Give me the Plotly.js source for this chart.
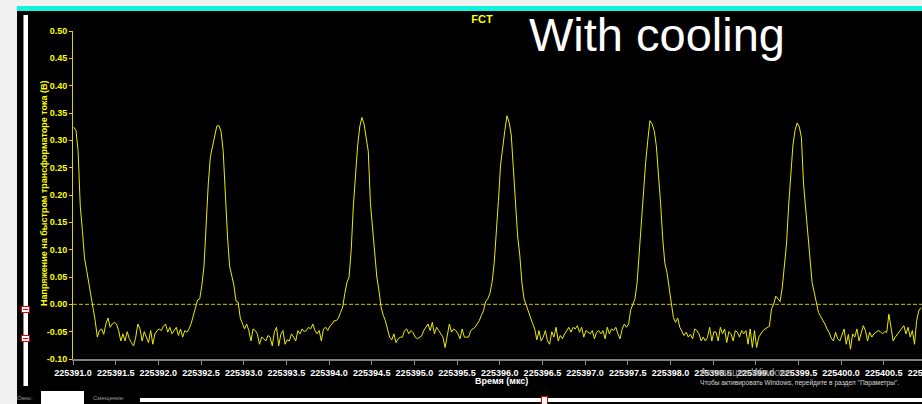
<!DOCTYPE html>
<html>
<head>
<meta charset="utf-8">
<script src="https://cdn.plot.ly/plotly-3.0.1.min.js"></script>
<style>
html,body{margin:0;padding:0;width:922px;height:404px;overflow:hidden;background:#f0f0f0;font-family:"Liberation Sans",Arial,sans-serif;}
#cyan{position:absolute;left:17px;top:6px;width:905px;height:5px;background:#12f2dc;}
#panel{position:absolute;left:17px;top:11px;width:905px;height:393px;background:#000;}
#vslider{position:absolute;left:23px;top:15px;width:4px;height:371px;background:#fff;border-left:1px solid #8a8a8a;}
.rmark{position:absolute;width:7px;height:5px;border:1px solid #e00000;background:#fff;}
.rmark:after{content:"";position:absolute;left:1px;top:2px;width:5px;height:1px;background:#e00000;}
#chart{position:absolute;left:0;top:0;width:960px;height:404px;}
.small{position:absolute;font-size:6px;color:#9a9a9a;white-space:nowrap;}
#winbox{position:absolute;left:41px;top:391px;width:43px;height:13px;background:#fff;}
#hbar{position:absolute;left:140px;top:398px;width:782px;height:4px;background:#fff;}
#hmark{position:absolute;left:541px;top:396px;width:5px;height:7px;border:1px solid #e00000;background:#fff;}
#wm1{position:absolute;left:700px;top:367px;font-size:10px;color:#9a9a9a;white-space:nowrap;z-index:5;}
#wm2{position:absolute;left:700px;top:379px;font-size:6.6px;color:#d8d8d8;white-space:nowrap;z-index:5;}
</style>
</head>
<body>
<div id="cyan"></div>
<div id="panel"></div>
<div id="vslider"></div>
<div class="rmark" style="left:21px;top:306px;"></div>
<div class="rmark" style="left:21px;top:335px;"></div>
<div id="chart"></div>
<div class="small" style="left:17px;top:395px;">Окно:</div>
<div id="winbox"></div>
<div class="small" style="left:93px;top:395px;">Смещение:</div>
<div id="hbar"></div>
<div id="hmark"></div>
<div id="wm1">Активация Windows</div>
<div id="wm2">Чтобы активировать Windows, перейдите в раздел "Параметры".</div>
<script>
// Sampling grid of the scope trace (µs)
const startTime = 225391.01;
const sampleStep = 0.025;

// FCT voltage (V)
const voltage = [
0.324,0.318,0.28,0.18,0.135,0.085,0.062,0.04,0.015,-0.005,
-0.03,-0.06,-0.048,-0.045,-0.055,-0.036,-0.025,-0.042,-0.036,-0.033,
-0.036,-0.048,-0.067,-0.054,-0.067,-0.05,-0.063,-0.07,-0.076,-0.06,
-0.036,-0.045,-0.067,-0.05,-0.06,-0.07,-0.048,-0.073,-0.054,-0.048,
-0.045,-0.048,-0.04,-0.036,-0.051,-0.042,-0.054,-0.048,-0.042,-0.057,
-0.045,-0.06,-0.048,-0.051,-0.045,-0.035,-0.02,-0.01,0.008,0.01,
0.035,0.07,0.15,0.22,0.27,0.29,0.305,0.326,0.327,0.316,
0.28,0.19,0.125,0.07,0.052,0.035,0.006,0.004,-0.025,-0.035,
-0.045,-0.036,-0.048,-0.067,-0.045,-0.048,-0.054,-0.073,-0.06,-0.063,
-0.067,-0.057,-0.06,-0.076,-0.05,-0.042,-0.076,-0.055,-0.048,-0.073,
-0.065,-0.067,-0.054,-0.06,-0.067,-0.048,-0.054,-0.045,-0.05,-0.048,
-0.042,-0.045,-0.036,-0.048,-0.054,-0.048,-0.067,-0.045,-0.042,-0.048,
-0.04,-0.036,-0.03,-0.03,-0.025,-0.015,-0.005,0.02,0.04,0.05,
0.1,0.18,0.235,0.29,0.325,0.342,0.33,0.305,0.28,0.185,
0.135,0.09,0.05,0.025,-0.005,-0.02,-0.03,-0.045,-0.06,-0.065,
-0.054,-0.07,-0.063,-0.06,-0.06,-0.048,-0.045,-0.054,-0.048,-0.052,
-0.06,-0.063,-0.06,-0.058,-0.048,-0.042,-0.036,-0.048,-0.033,-0.054,
-0.042,-0.048,-0.054,-0.06,-0.079,-0.06,-0.036,-0.051,-0.045,-0.048,
-0.054,-0.063,-0.045,-0.06,-0.06,-0.06,-0.048,-0.045,-0.042,-0.036,
-0.03,-0.02,-0.012,0.005,0.01,0.02,0.04,0.075,0.125,0.19,
0.255,0.29,0.318,0.345,0.333,0.31,0.25,0.17,0.125,0.09,
0.04,0.01,-0.002,-0.01,-0.022,-0.035,-0.045,-0.065,-0.048,-0.067,
-0.06,-0.048,-0.067,-0.073,-0.05,-0.06,-0.042,-0.067,-0.057,-0.063,
-0.054,-0.048,-0.042,-0.051,-0.042,-0.045,-0.039,-0.051,-0.042,-0.06,
-0.048,-0.051,-0.054,-0.048,-0.063,-0.051,-0.048,-0.054,-0.048,-0.063,
-0.042,-0.054,-0.045,-0.048,-0.042,-0.054,-0.063,-0.045,-0.036,-0.042,
-0.036,-0.01,0.0,0.01,0.04,0.1,0.16,0.21,0.26,0.3,
0.336,0.33,0.318,0.29,0.245,0.185,0.12,0.075,0.058,0.03,
0.0,-0.024,-0.033,-0.025,-0.042,-0.05,-0.057,-0.051,-0.06,-0.055,
-0.063,-0.045,-0.048,-0.054,-0.067,-0.06,-0.067,-0.06,-0.042,-0.067,
-0.05,-0.051,-0.067,-0.042,-0.054,-0.045,-0.07,-0.05,-0.054,-0.067,
-0.048,-0.051,-0.06,-0.048,-0.054,-0.048,-0.073,-0.045,-0.079,-0.048,
-0.079,-0.06,-0.054,-0.048,-0.045,-0.042,-0.04,-0.008,0.0,0.015,
0.01,0.005,0.03,0.065,0.11,0.18,0.24,0.29,0.318,0.332,
0.325,0.305,0.22,0.175,0.12,0.08,0.04,0.022,0.0,-0.015,
-0.022,-0.028,-0.036,-0.045,-0.052,-0.062,-0.067,-0.051,-0.063,-0.067,
-0.055,-0.045,-0.073,-0.055,-0.082,-0.054,-0.06,-0.045,-0.067,-0.054,
-0.039,-0.048,-0.067,-0.051,-0.06,-0.054,-0.051,-0.048,-0.05,-0.054,
-0.05,-0.051,-0.018,-0.045,-0.067,-0.06,-0.055,-0.048,-0.045,-0.039,
-0.054,-0.042,-0.06,-0.048,-0.073,-0.03,-0.012,-0.006
];

const yTickVals = [-0.10,-0.05,0.00,0.05,0.10,0.15,0.20,0.25,0.30,0.35,0.40,0.45,0.50];
const yTickText = ["-0.10","-0.05","0.00","0.05","0.10","0.15","0.20","0.25","0.30","0.35","0.40","0.45","0.50"];

const chartTitle = "FCT";
const overlayText = "With cooling";
const xTitle = "Время (мкс)";
const yTitle = "Напряжение на быстром трансформаторе тока (В)";

const times = voltage.map((_, i) => startTime + i * sampleStep);

const FONT = '"Liberation Sans", Arial, sans-serif';
const W = 960, PL = 73, PR = 929;   // plot area spans page x 73..929
const PW = PR - PL;

const trace = {
  x: times, y: voltage, type: 'scatter', mode: 'lines',
  line: {color: '#ecec00', width: 1}, hoverinfo: 'skip', cliponaxis: true
};

const layout = {
  width: W, height: 404,
  margin: {l: PL, r: W - PR, t: 31, b: 45, pad: 0},
  paper_bgcolor: 'rgba(0,0,0,0)',
  plot_bgcolor: 'rgba(0,0,0,0)',
  showlegend: false,
  title: {
    text: chartTitle,
    font: {family: FONT, size: 11, color: '#ffff00', weight: 'bold'},
    xref: 'container', yref: 'container',
    x: 482 / W, xanchor: 'center', y: 1 - 19 / 404, yanchor: 'middle'
  },
  xaxis: {
    range: [225391.0, 225401.03],
    tick0: 225391, dtick: 0.5, tickformat: '.1f',
    showgrid: false, zeroline: false,
    showline: true, linecolor: '#808080', linewidth: 2,
    ticks: 'outside', ticklen: 4, tickwidth: 1, tickcolor: '#909090',
    ticklabeloverflow: 'allow',
    tickfont: {family: FONT, size: 9, color: '#ffffff', weight: 'bold'},
    fixedrange: true
  },
  yaxis: {
    range: [-0.1, 0.5],
    tickmode: 'array', tickvals: yTickVals, ticktext: yTickText,
    showgrid: false, zeroline: false,
    showline: true, linecolor: '#d8d800', linewidth: 1,
    ticks: 'outside', ticklen: 3, tickwidth: 1, tickcolor: '#d8d800',
    tickfont: {family: FONT, size: 9, color: '#ffff00', weight: 'bold'},
    fixedrange: true
  },
  shapes: [{
    type: 'line', xref: 'paper', x0: 0, x1: 1, yref: 'y', y0: 0, y1: 0,
    line: {color: '#c8c000', width: 1, dash: '4px,2px'}, layer: 'below'
  }],
  annotations: [
    {text: overlayText, xref: 'paper', yref: 'paper', x: (527 - PL) / PW, y: 1 + (31 - 34) / 328,
     xanchor: 'left', yanchor: 'middle', showarrow: false,
     font: {family: FONT, size: 47, color: '#ffffff'}},
    {text: xTitle, xref: 'paper', yref: 'paper', x: 0.5, y: 0, yshift: -22,
     xanchor: 'center', yanchor: 'middle', showarrow: false,
     font: {family: FONT, size: 9, color: '#ffffff', weight: 'bold'}},
    {text: yTitle, xref: 'paper', yref: 'paper', x: 0, xshift: -29, y: 0.5, yshift: 2,
     xanchor: 'center', yanchor: 'middle', textangle: -90, showarrow: false,
     font: {family: FONT, size: 9, color: '#ffff00', weight: 'bold'}}
  ]
};

Plotly.newPlot('chart', [trace], layout, {displayModeBar: false, staticPlot: true});
</script>
</body>
</html>
